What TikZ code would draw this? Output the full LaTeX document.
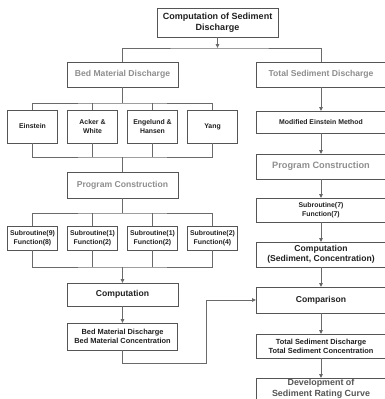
\documentclass[tikz,border=0pt]{standalone}
\usepackage{fontspec}
\setmainfont{Liberation Sans}
\usetikzlibrary{positioning,arrows.meta}
\definecolor{boxline}{HTML}{555555}
\definecolor{wirecol}{HTML}{6A6A6A}
\definecolor{dimtext}{HTML}{8E8E8E}
\definecolor{inktext}{HTML}{202020}

\begin{document}
\begin{tikzpicture}[x=1pt,y=-1pt,>={Triangle[length=4pt,width=3.6pt]},
   box/.style={draw=boxline,line width=0.9pt,fill=white,align=center,
     inner sep=1pt,outer sep=0pt,text=inktext},
   bigf/.style={font=\bfseries\fontsize{9}{11}\selectfont},
   medf/.style={font=\bfseries\fontsize{8.6}{10}\selectfont},
   smallf/.style={font=\bfseries\fontsize{6.9}{8.5}\selectfont},
   midf/.style={font=\bfseries\fontsize{7.4}{9}\selectfont},
   dim/.style={text=dimtext},
   lbox/.style={box,minimum width=111pt},
   sbox/.style={box,smallf,minimum width=50pt},
   rbox/.style={box,minimum width=130pt},
   wire/.style={draw=wirecol,line width=0.9pt}]
  \useasboundingbox (0,0) rectangle (385,399);
  \clip (0,0) rectangle (385,399);

  % top
  \node[box,bigf,minimum width=121pt,minimum height=29pt] (top) at (217.5,22.5)
    {Computation of Sediment\\Discharge};

  % left column
  \node[lbox,medf,dim,minimum height=25pt] (bmd) at (122.5,74.5) {Bed Material Discharge};
  \node[sbox,minimum height=33pt] (ein) at (32.5,126.5) {Einstein};
  \node[sbox,minimum height=33pt,right=10pt of ein] (aw) {Acker \&\\White};
  \node[sbox,minimum height=33pt,right=10pt of aw] (eh) {Engelund \&\\Hansen};
  \node[sbox,minimum height=33pt,right=10pt of eh] (yang) {Yang};
  \node[lbox,medf,dim,minimum height=26pt] (pcl) at (122.5,185) {Program Construction};
  \node[sbox,minimum height=24pt] (s9) at (32.5,238) {Subroutine(9)\\Function(8)};
  \node[sbox,minimum height=24pt,right=10pt of s9] (s1a) {Subroutine(1)\\Function(2)};
  \node[sbox,minimum height=24pt,right=10pt of s1a] (s1b) {Subroutine(1)\\Function(2)};
  \node[sbox,minimum height=24pt,right=10pt of s1b] (s2) {Subroutine(2)\\Function(4)};
  \node[lbox,medf,minimum height=23pt] (cmp) at (122.5,294.5) {Computation};
  \node[lbox,midf,minimum height=27pt,minimum width=110pt,below=17pt of cmp] (bmo)
    {Bed Material Discharge\\Bed Material Concentration};

  % right column
  \node[rbox,medf,dim,minimum height=25pt] (tsd) at (321,74.5) {Total Sediment Discharge};
  \node[rbox,smallf,minimum height=22pt,below=24pt of tsd] (mem) {Modified Einstein Method};
  \node[rbox,dim,font=\bfseries\fontsize{9.2}{11}\selectfont,minimum height=25pt,
    below=21pt of mem] (pcr) {Program Construction};
  \node[rbox,smallf,minimum height=24pt,below=19pt of pcr] (sub7) {Subroutine(7)\\Function(7)};
  \node[rbox,medf,minimum height=25pt,below=20pt of sub7] (cpr)
    {Computation\\(Sediment, Concentration)};
  \node[rbox,medf,minimum height=26pt,below=20pt of cpr] (cmpr) {Comparison};
  \node[rbox,midf,minimum height=24pt,below=21pt of cmpr] (tso)
    {Total Sediment Discharge\\Total Sediment Concentration};
  \node[rbox,font=\bfseries\fontsize{8.9}{11}\selectfont,text=boxline,minimum height=22pt,
    inner ysep=0pt,below=20pt of tso] (dev) {Development of\\Sediment Rating Curve};

  % branch points
  \coordinate (split) at (217.5,48);
  \coordinate (b1) at (122.5,103);
  \coordinate (j1) at (122.5,157);
  \coordinate (b2) at (122.5,213);
  \coordinate (j2) at (122.5,267);
  \coordinate (low) at (206,363);

  % connectors
  \draw[wire,->] (top) -- (split);
  \draw[wire] (bmd) |- (split) -| (tsd);
  \draw[wire] (bmd) -- (b1);
  \draw[wire] (ein) |- (b1) -| (yang);
  \draw[wire] (aw) -- (aw |- b1);
  \draw[wire] (eh) -- (eh |- b1);
  \draw[wire] (ein) |- (j1) -| (yang);
  \draw[wire] (aw) -- (aw |- j1);
  \draw[wire] (eh) -- (eh |- j1);
  \draw[wire] (j1) -- (pcl);
  \draw[wire] (pcl) -- (b2);
  \draw[wire] (s9) |- (b2) -| (s2);
  \draw[wire] (s1a) -- (s1a |- b2);
  \draw[wire] (s1b) -- (s1b |- b2);
  \draw[wire] (s9) |- (j2) -| (s2);
  \draw[wire] (s1a) -- (s1a |- j2);
  \draw[wire] (s1b) -- (s1b |- j2);
  \draw[wire,->] (j2) -- (cmp);
  \draw[wire,->] (cmp) -- (bmo);
  \draw[wire,->] (bmo) |- (low) |- (cmpr);
  \path[wire,->]
   (tsd) edge (mem)
   (mem) edge (pcr)
   (pcr) edge (sub7)
   (sub7) edge (cpr)
   (cpr) edge (cmpr)
   (cmpr) edge (tso)
   (tso) edge (dev);
\end{tikzpicture}
\end{document}
